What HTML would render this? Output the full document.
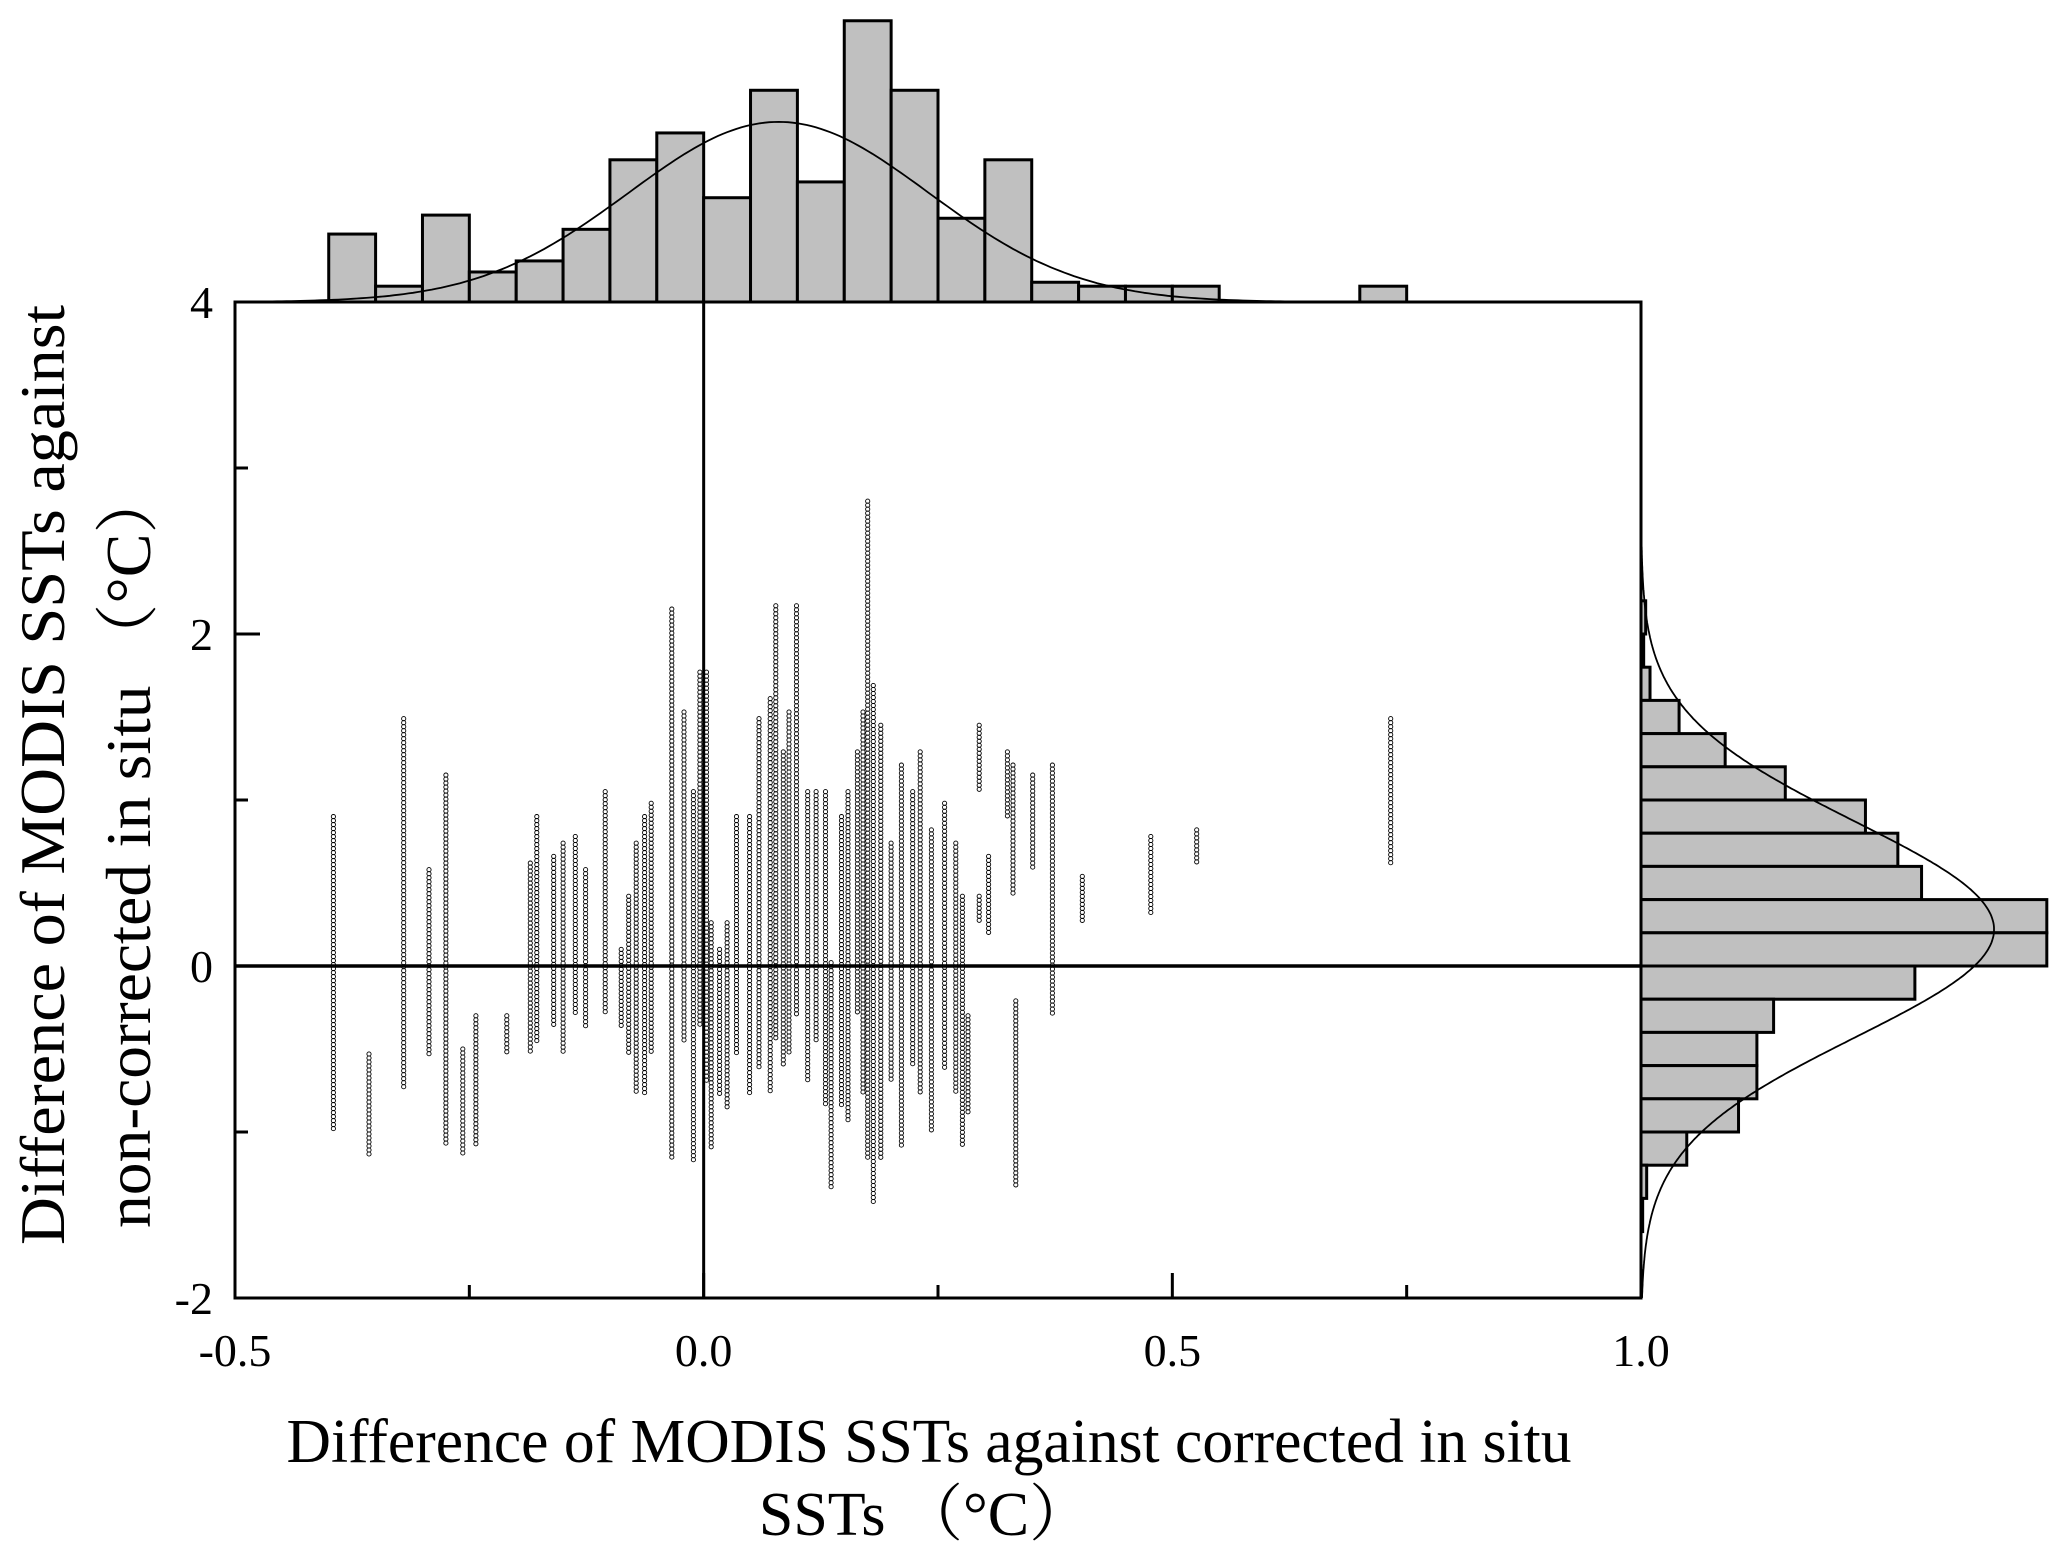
<!DOCTYPE html>
<html><head><meta charset="utf-8">
<style>
html,body{margin:0;padding:0;background:#fff;}
svg{display:block;}
text{font-family:"Liberation Serif","Noto Serif CJK SC",serif;fill:#000;}
</style></head>
<body>
<svg id="chart" width="2067" height="1559" viewBox="0 0 2067 1559" xmlns="http://www.w3.org/2000/svg">
<g id="topHist"></g>
<g id="rightHist"></g>
<g id="scatter"></g>
<g id="axes"></g>
<text x="929" y="1462" font-size="62" text-anchor="middle" textLength="1285" lengthAdjust="spacingAndGlyphs">Difference of MODIS SSTs against corrected in situ</text>
<text x="925" y="1535" font-size="62" text-anchor="middle">SSTs （°C）</text>
<text transform="translate(64,775) rotate(-90)" font-size="64" text-anchor="middle" textLength="940" lengthAdjust="spacingAndGlyphs">Difference of MODIS SSTs against</text>
<text transform="translate(150,848) rotate(-90)" font-size="64" text-anchor="middle" textLength="760" lengthAdjust="spacingAndGlyphs">non-corrected in situ （°C）</text>
</svg>
<script>
// ---- data ----
const topBinStart = -0.4;
const topBinWidth = 0.05;
const topCounts = [4.3,1,5.5,1.9,2.6,4.6,9,10.7,6.6,13.4,7.6,17.8,13.4,5.3,9,1.25,1,1,1,0,0,0,1];
const topFitMean = 0.08, topFitSigma = 0.16, topFitPeak = 11.4;
const rightBinStart = 2.2;
const rightBinWidth = 0.2;
const rightCounts = [1.4,0.8,2.7,11.4,25.2,43.2,67.2,76.9,84,121.5,121.5,82,39.7,34.7,34.7,29.2,13.7,1.7,0.5];
const rightFitMean = 0.22, rightFitSigma = 0.65, rightFitPeak = 105.7;
const xTicks = [-0.5,0.0,0.5,1.0];
const xTickLabels = ["-0.5","0.0","0.5","1.0"];
const yTicks = [4,2,0,-2];
const yTickLabels = ["4","2","0","-2"];
// scatter columns: x value, y max, y min
const colX =   [-0.395,-0.357,-0.32,-0.293,-0.275,-0.257,-0.243,-0.21,-0.185,-0.178,-0.16,-0.15,-0.137,-0.126,-0.105,-0.088,-0.08,-0.072,-0.063,-0.056,-0.034,-0.021,-0.011,-0.004,0.003,0.008,0.017,0.025,0.035,0.049,0.059,0.071,0.077,0.085,0.091,0.099,0.111,0.12,0.13,0.136,0.147,0.154,0.164,0.17,0.175,0.181,0.189,0.2,0.211,0.223,0.231,0.243,0.257,0.269,0.276,0.282,0.294,0.294,0.304,0.324,0.33,0.333,0.351,0.372,0.404,0.477,0.526,0.733];
const colYmax = [0.9,-0.53,1.49,0.58,1.15,-0.5,-0.3,-0.3,0.62,0.9,0.66,0.74,0.78,0.58,1.05,0.1,0.42,0.74,0.9,0.98,2.15,1.53,1.05,1.77,1.77,0.26,0.1,0.26,0.9,0.9,1.49,1.61,2.17,1.29,1.53,2.17,1.05,1.05,1.05,0.02,0.9,1.05,1.29,1.53,2.8,1.69,1.45,0.74,1.21,1.05,1.29,0.82,0.98,0.74,0.42,-0.3,1.45,0.42,0.66,1.29,1.21,-0.21,1.15,1.21,0.54,0.78,0.82,1.49];
const colYmin = [-0.99,-1.15,-0.73,-0.53,-1.09,-1.13,-1.09,-0.53,-0.53,-0.45,-0.37,-0.53,-0.29,-0.37,-0.29,-0.37,-0.53,-0.77,-0.77,-0.53,-1.17,-0.45,-1.17,-0.37,-0.69,-1.09,-0.77,-0.85,-0.53,-0.77,-0.61,-0.77,-0.45,-0.61,-0.53,-0.29,-0.69,-0.45,-0.85,-1.33,-0.85,-0.93,-0.29,-0.77,-1.17,-1.44,-1.17,-0.69,-1.09,-0.61,-0.77,-1.01,-0.61,-0.77,-1.09,-0.89,1.05,0.26,0.18,0.9,0.42,-1.33,0.58,-0.29,0.26,0.3,0.62,0.62];

// ---- scales ----
const L=235, R=1641, T=302, B=1298;
const xs = v => L + (v+0.5)/1.5*(R-L);
const ys = v => B - (v+2)/6*(B-T);
const topPx = 15.8;    // px per count
const rightPx = 3.34;  // px per count
const NS="http://www.w3.org/2000/svg";
function mk(tag, parent, attrs){const e=document.createElementNS(NS,tag);for(const k in attrs)e.setAttribute(k,attrs[k]);parent.appendChild(e);return e;}

// top histogram
const gT=document.getElementById('topHist');
topCounts.forEach((c,i)=>{
  if(c<=0) return;
  const x0=xs(topBinStart+i*topBinWidth), x1=xs(topBinStart+(i+1)*topBinWidth);
  const r=mk('rect',gT,{x:x0,y:T-c*topPx,width:x1-x0,height:c*topPx,fill:'#c0c0c0',stroke:'#000','stroke-width':3});
  
  
});
let d='';
for(let v=-0.5;v<=0.72;v+=0.005){const y=T-topFitPeak*topPx*Math.exp(-0.5*((v-topFitMean)/topFitSigma)**2);d+=(d?'L':'M')+xs(v).toFixed(1)+','+y.toFixed(1);}
const cT=mk('path',gT,{d:d,fill:'none',stroke:'#000','stroke-width':1.8});



// right histogram
const gR=document.getElementById('rightHist');
rightCounts.forEach((c,i)=>{
  const y0=ys(rightBinStart-i*rightBinWidth), y1=ys(rightBinStart-(i+1)*rightBinWidth);
  const r=mk('rect',gR,{x:R,y:y0,width:c*rightPx,height:y1-y0,fill:'#c0c0c0',stroke:'#000','stroke-width':3});
  
  
});
d='';
for(let v=2.6;v>=-2;v-=0.01){const x=R+rightFitPeak*rightPx*Math.exp(-0.5*((v-rightFitMean)/rightFitSigma)**2);d+=(d?'L':'M')+x.toFixed(1)+','+ys(v).toFixed(1);}
const cR=mk('path',gR,{d:d,fill:'none',stroke:'#000','stroke-width':1.8});



// scatter
const gS=document.getElementById('scatter');
colX.forEach((xv,i)=>{
  const cx=xs(xv), yTop=ys(colYmax[i]), yBot=ys(colYmin[i]);
  const col=mk('g',gS,{});
  
  
  for(let y=yTop;y<=yBot+0.1;y+=4){
    mk('circle',col,{cx:cx.toFixed(1),cy:y.toFixed(1),r:2.1,fill:'none',stroke:'#000','stroke-width':0.9});
  }
});

// axes
const gA=document.getElementById('axes');
mk('rect',gA,{x:L,y:T,width:R-L,height:B-T,fill:'none',stroke:'#000','stroke-width':3});
const zh=mk('line',gA,{x1:L,x2:R,y1:ys(0),y2:ys(0),stroke:'#000','stroke-width':3.5});


const zv=mk('line',gA,{x1:xs(0),x2:xs(0),y1:T,y2:B,stroke:'#000','stroke-width':3});


for(let v=-0.5;v<=1.0001;v+=0.25){
  const major=Math.abs(v*2-Math.round(v*2))<1e-6;
  mk('line',gA,{x1:xs(v),x2:xs(v),y1:B,y2:B-(major?25:13),stroke:'#000','stroke-width':3});
}
for(let v=-2;v<=4.0001;v+=1){
  const major=Math.abs(v/2-Math.round(v/2))<1e-6;
  mk('line',gA,{x1:L,x2:L+(major?25:13),y1:ys(v),y2:ys(v),stroke:'#000','stroke-width':3});
}
xTicks.forEach((v,i)=>{
  const t=mk('text',gA,{x:xs(v),y:1366,'font-size':46,'text-anchor':'middle'});
  t.textContent=xTickLabels[i];
  
  
});
yTicks.forEach((v,i)=>{
  const t=mk('text',gA,{x:213,y:ys(v)+16,'font-size':46,'text-anchor':'end'});
  t.textContent=yTickLabels[i];
  
  
});
</script>
</body></html>
